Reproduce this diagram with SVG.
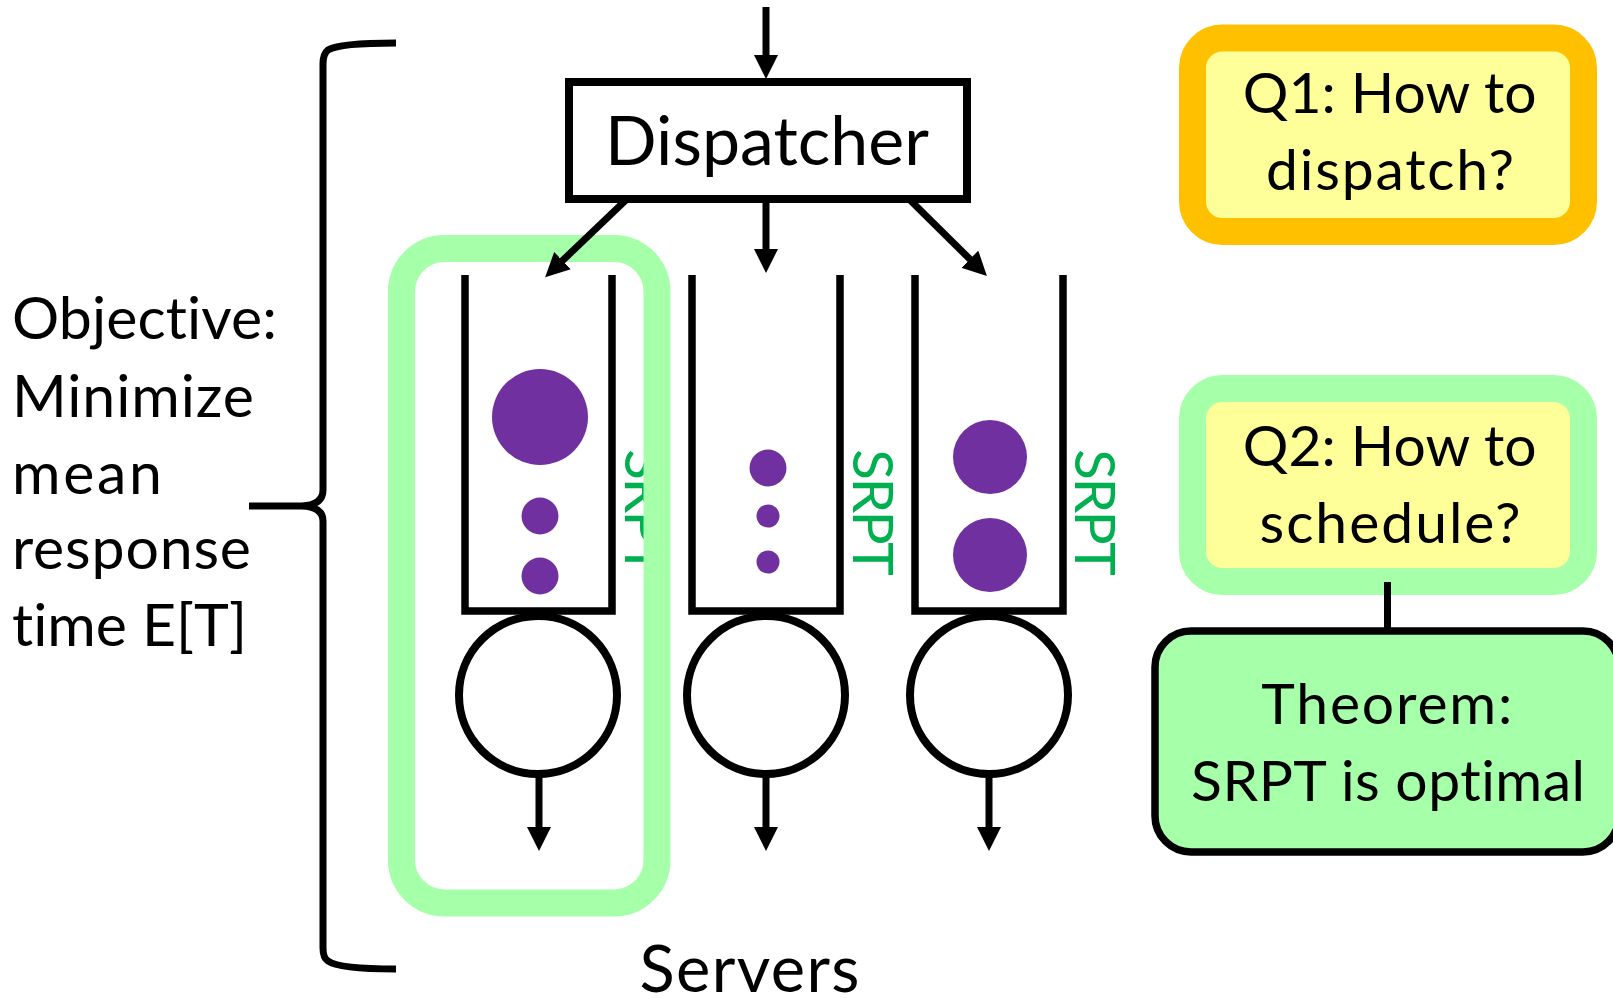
<svg xmlns="http://www.w3.org/2000/svg" width="1613" height="998" viewBox="0 0 1613 998">
  <style>
    text { font-variant-ligatures: none; font-feature-settings: "liga" 0, "clig" 0; }
    .txt { font-family: Lato, "Noto Sans", "Liberation Sans", sans-serif; fill: #000; }
    .lbl { font-size: 59px; }
    .big { font-size: 68px; }
    .box { font-size: 57px; }
    .srpt { font-family: Lato, "Noto Sans", "Liberation Sans", sans-serif; font-size: 57px; fill: #00B050; }
    .queue { fill: none; stroke: #000; stroke-width: 7.5; }
    .server { fill: #fff; stroke: #000; stroke-width: 8; }
    .job { fill: #7030A0; }
    .edge { fill: none; stroke: #000; stroke-width: 7; }
  </style>
  <defs>
    <marker id="head" viewBox="0 0 24 24" markerWidth="24" markerHeight="24" markerUnits="userSpaceOnUse" refX="12" refY="12" orient="auto">
      <path d="M0,0 L24,12 L0,24 Z" fill="#000"/>
    </marker>
  </defs>

  <rect width="1613" height="998" fill="#fff"/>

  <!-- queue 1 -->
  <g id="queue1">
    <polyline class="queue" points="465,275 465,611 612,611 612,275"/>
    <circle class="job" cx="540" cy="417" r="48"/>
    <circle class="job" cx="540" cy="516" r="18.5"/>
    <circle class="job" cx="540" cy="576" r="18.5"/>
    <text class="srpt" transform="translate(625,449) rotate(90)" textLength="127">SRPT</text>
  </g>

  <!-- queue 2 -->
  <g id="queue2">
    <polyline class="queue" points="692,275 692,611 840,611 840,275"/>
    <circle class="job" cx="768" cy="468" r="18.5"/>
    <circle class="job" cx="768" cy="516" r="11.5"/>
    <circle class="job" cx="768" cy="562" r="11.5"/>
    <text class="srpt" transform="translate(853,449) rotate(90)" textLength="127">SRPT</text>
  </g>

  <!-- queue 3 -->
  <g id="queue3">
    <polyline class="queue" points="915,275 915,611 1063,611 1063,275"/>
    <circle class="job" cx="990" cy="457" r="37"/>
    <circle class="job" cx="990" cy="555" r="37"/>
    <text class="srpt" transform="translate(1075,449) rotate(90)" textLength="127">SRPT</text>
  </g>

  <!-- highlight around the first queue/server pair -->
  <g id="highlight">
    <rect x="401.5" y="248.5" width="255.5" height="654.5" rx="43" fill="none" stroke="#A6FFA9" stroke-width="27"/>
  </g>

  <!-- servers -->
  <g id="server1"><circle class="server" cx="538" cy="695" r="79"/></g>
  <g id="server2"><circle class="server" cx="766" cy="695" r="79"/></g>
  <g id="server3"><circle class="server" cx="989" cy="695" r="79"/></g>

  <!-- dispatcher -->
  <g id="dispatcher">
    <rect x="569" y="82" width="398" height="117" fill="#fff" stroke="#000" stroke-width="8"/>
    <text class="txt big" x="767" y="165" text-anchor="middle" textLength="324">Dispatcher</text>
  </g>

  <!-- objective brace and label -->
  <g id="objective">
    <path d="M396,43 C362,43 336,45 328,50 Q323,54 323,64 V490 Q323,505 302,506 H249 M302,506 Q323,507 323,521 V948 Q323,958 328,961 C336,967 362,969 396,969" fill="none" stroke="#000" stroke-width="7"/>
    <text class="txt lbl">
      <tspan x="12" y="339" textLength="265">Objective:</tspan>
      <tspan x="12" y="417" textLength="242">Minimize</tspan>
      <tspan x="12" y="494" textLength="150">mean</tspan>
      <tspan x="12" y="569" textLength="239">response</tspan>
      <tspan x="12" y="646" textLength="235">time E[T]</tspan>
    </text>
  </g>

  <g id="servers-label">
    <text class="txt" font-size="65" x="749.5" y="992" text-anchor="middle" textLength="220">Servers</text>
  </g>

  <!-- question 1 -->
  <g id="q1">
    <rect x="1192.5" y="38" width="391" height="193.5" rx="30" fill="#FFFF99" stroke="#FFC000" stroke-width="27"/>
    <text class="txt box" text-anchor="middle">
      <tspan x="1397" y="113" textLength="294">Q1: How to</tspan>
      <tspan x="1390" y="190" textLength="248">dispatch?</tspan>
    </text>
  </g>

  <!-- question 2 -->
  <g id="q2">
    <rect x="1192.5" y="388.5" width="391" height="193" rx="30" fill="#FFFF99" stroke="#A6FFA9" stroke-width="27"/>
    <text class="txt box" text-anchor="middle">
      <tspan x="1397" y="466" textLength="294">Q2: How to</tspan>
      <tspan x="1390" y="543" textLength="261">schedule?</tspan>
    </text>
  </g>

  <!-- theorem -->
  <g id="theorem">
    <rect x="1155" y="631" width="464" height="221" rx="36" fill="#A6FFA9" stroke="#000" stroke-width="7.5"/>
    <text class="txt box" text-anchor="middle">
      <tspan x="1395" y="724" textLength="251">Theorem:</tspan>
      <tspan x="1388" y="801" textLength="394">SRPT is optimal</tspan>
    </text>
  </g>

  <!-- connectors -->
  <g id="connectors">
    <line class="edge" x1="766" y1="7" x2="766" y2="67" marker-end="url(#head)"/>
    <line class="edge" x1="766" y1="199" x2="766" y2="261" marker-end="url(#head)"/>
    <line class="edge" x1="627" y1="199" x2="553.8" y2="268.9" marker-end="url(#head)"/>
    <line class="edge" x1="909" y1="199" x2="978.4" y2="267.6" marker-end="url(#head)"/>
    <line class="edge" x1="539" y1="774" x2="539" y2="839" marker-end="url(#head)"/>
    <line class="edge" x1="766" y1="774" x2="766" y2="839" marker-end="url(#head)"/>
    <line class="edge" x1="989" y1="774" x2="989" y2="839" marker-end="url(#head)"/>
    <line class="edge" x1="1387.5" y1="582" x2="1387.5" y2="631"/>
  </g>
</svg>
